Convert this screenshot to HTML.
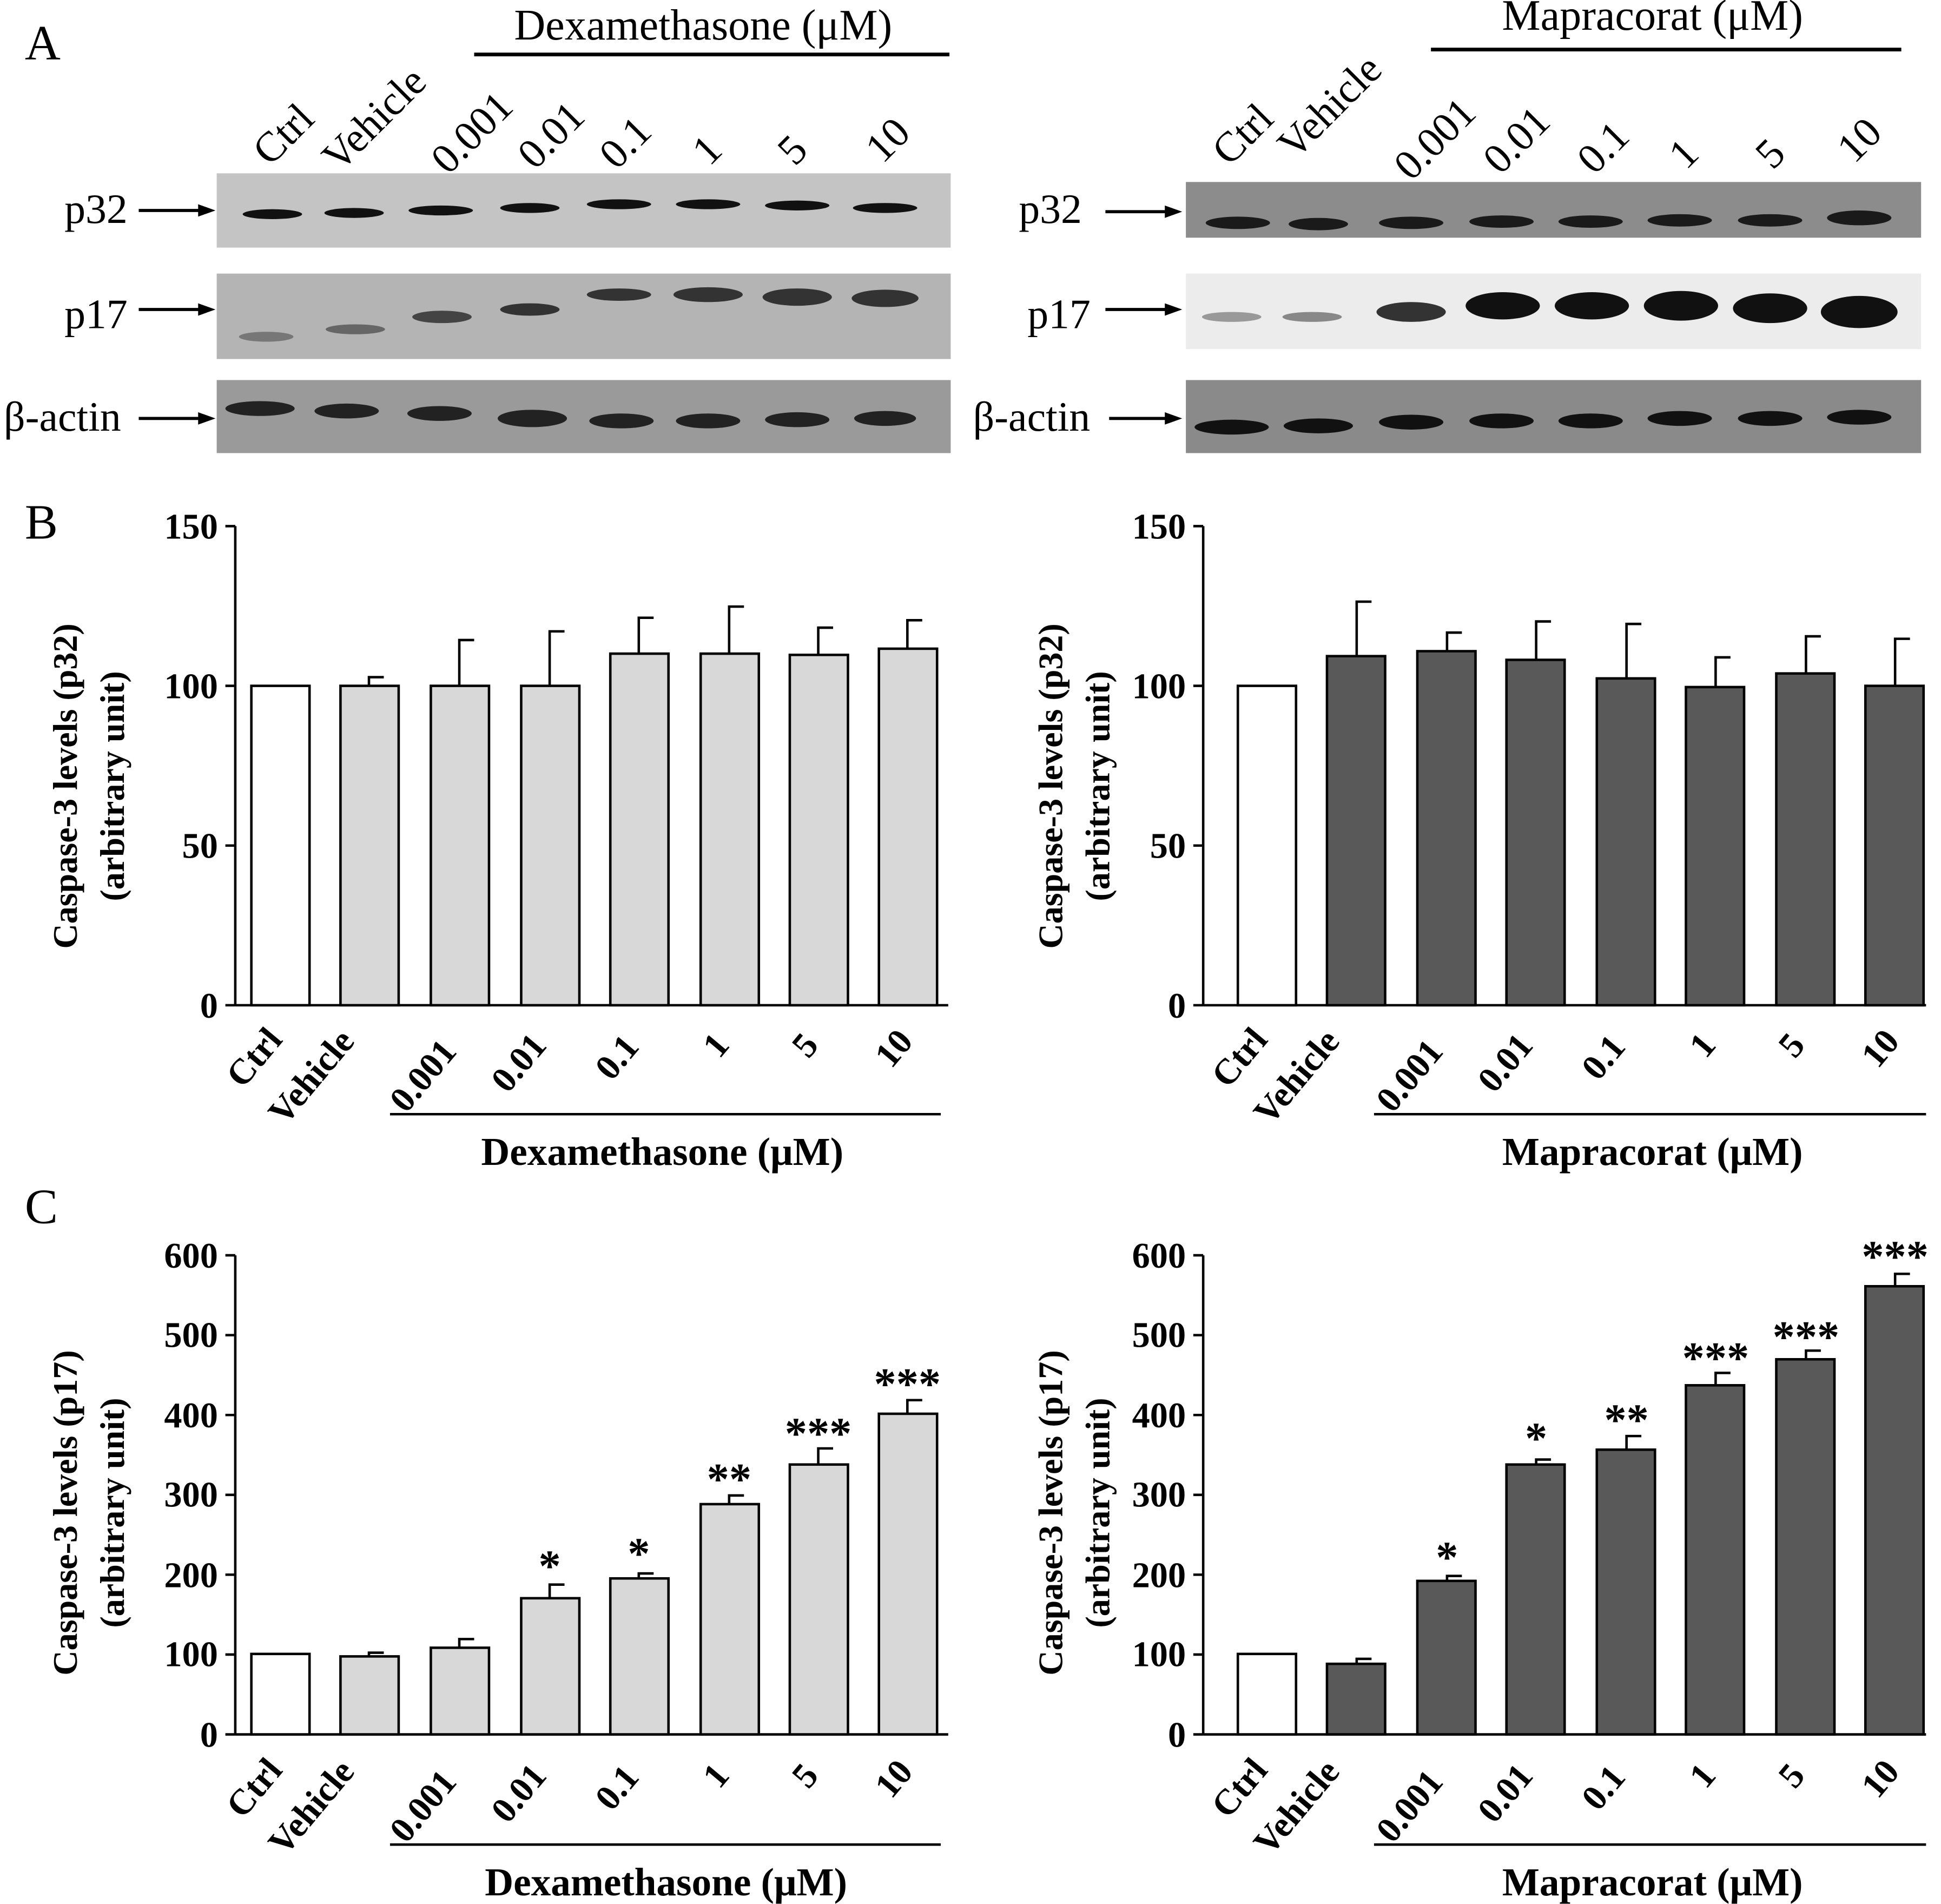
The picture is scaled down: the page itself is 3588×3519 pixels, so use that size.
<!DOCTYPE html>
<html><head><style>html,body{margin:0;padding:0;background:#fff}svg{display:block}</style></head>
<body>
<svg xmlns="http://www.w3.org/2000/svg" width="3588" height="3519" viewBox="0 0 1568 1538" font-family="Liberation Serif, serif">
<rect width="1568" height="1538" fill="#fff"/>
<text x="20" y="48" font-size="40">A</text>
<text x="20" y="435" font-size="40">B</text>
<text x="20" y="988" font-size="40">C</text>

<text x="568" y="32" font-size="35" text-anchor="middle">Dexamethasone (μM)</text>
<line x1="383" y1="44" x2="767" y2="44" stroke="#000" stroke-width="3"/>
<g font-size="34">
<text transform="translate(218,135) rotate(-45)">Ctrl</text>
<text transform="translate(274,140) rotate(-45)">Vehicle</text>
<text transform="translate(362,142) rotate(-45)">0.001</text>
<text transform="translate(432,138) rotate(-45)">0.01</text>
<text transform="translate(498,138) rotate(-45)">0.1</text>
<text transform="translate(573,135) rotate(-45)">1</text>
<text transform="translate(642,135) rotate(-45)">5</text>
<text transform="translate(713,133) rotate(-45)">10</text>
</g>
<rect x="175" y="140" width="593" height="60" fill="#c4c4c4"/>
<rect x="175" y="221" width="593" height="69" fill="#b4b4b4"/>
<rect x="175" y="307" width="593" height="59" fill="#9a9a9a"/>
<g fill="#111">
<ellipse cx="220" cy="173" rx="24" ry="4"/><ellipse cx="286" cy="172" rx="24" ry="4"/><ellipse cx="356" cy="170" rx="26" ry="4"/><ellipse cx="428" cy="168" rx="24" ry="4"/><ellipse cx="500" cy="165" rx="26" ry="4"/><ellipse cx="572" cy="165" rx="26" ry="4"/><ellipse cx="644" cy="166" rx="26" ry="4"/><ellipse cx="715" cy="168" rx="26" ry="4"/>
</g>
<g fill="#333">
<ellipse cx="215" cy="272" rx="22" ry="4" fill="#777"/><ellipse cx="287" cy="266" rx="24" ry="4" fill="#666"/><ellipse cx="357" cy="256" rx="24" ry="5" fill="#444"/><ellipse cx="428" cy="250" rx="24" ry="5" fill="#333"/><ellipse cx="500" cy="238" rx="26" ry="5"/><ellipse cx="572" cy="238" rx="28" ry="6"/><ellipse cx="644" cy="240" rx="28" ry="7"/><ellipse cx="715" cy="241" rx="27" ry="7"/>
</g>
<g fill="#222">
<ellipse cx="210" cy="330" rx="28" ry="6"/><ellipse cx="280" cy="332" rx="26" ry="6"/><ellipse cx="355" cy="334" rx="26" ry="6"/><ellipse cx="430" cy="338" rx="28" ry="7"/><ellipse cx="502" cy="340" rx="26" ry="6"/><ellipse cx="572" cy="340" rx="26" ry="6"/><ellipse cx="644" cy="339" rx="26" ry="6"/><ellipse cx="715" cy="338" rx="25" ry="6"/>
</g>
<g font-size="34">
<text x="52" y="180">p32</text><text x="52" y="265">p17</text><text x="3" y="348">β-actin</text>
<text x="823" y="180">p32</text><text x="830" y="265">p17</text><text x="786" y="348">β-actin</text>
</g>
<g stroke="#000" stroke-width="2.5">
<line x1="112" y1="170" x2="168" y2="170"/><line x1="112" y1="250" x2="168" y2="250"/><line x1="112" y1="338" x2="168" y2="338"/>
<line x1="893" y1="171" x2="948" y2="171"/><line x1="893" y1="250" x2="948" y2="250"/><line x1="896" y1="338" x2="948" y2="338"/>
</g>
<g fill="#000">
<polygon points="174,170 160,165 160,175"/><polygon points="174,250 160,245 160,255"/><polygon points="174,338 160,333 160,343"/>
<polygon points="955,171 941,166 941,176"/><polygon points="955,250 941,245 941,255"/><polygon points="955,338 941,333 941,343"/>
</g>

<text x="1335" y="24" font-size="35" text-anchor="middle">Mapracorat (μM)</text>
<line x1="1156" y1="40" x2="1536" y2="40" stroke="#000" stroke-width="3"/>
<g font-size="34">
<text transform="translate(993,135) rotate(-45)">Ctrl</text>
<text transform="translate(1046,130) rotate(-45)">Vehicle</text>
<text transform="translate(1140,147) rotate(-45)">0.001</text>
<text transform="translate(1212,142) rotate(-45)">0.01</text>
<text transform="translate(1288,142) rotate(-45)">0.1</text>
<text transform="translate(1362,138) rotate(-45)">1</text>
<text transform="translate(1432,138) rotate(-45)">5</text>
<text transform="translate(1498,133) rotate(-45)">10</text>
</g>
<rect x="958" y="147" width="594" height="45" fill="#8c8c8c"/>
<rect x="958" y="221" width="594" height="61" fill="#ececec"/>
<rect x="958" y="307" width="594" height="59" fill="#8a8a8a"/>
<g fill="#1a1a1a">
<ellipse cx="1000" cy="180" rx="26" ry="5"/><ellipse cx="1065" cy="181" rx="24" ry="5"/><ellipse cx="1140" cy="180" rx="26" ry="5"/><ellipse cx="1213" cy="179" rx="26" ry="5"/><ellipse cx="1285" cy="179" rx="26" ry="5"/><ellipse cx="1357" cy="178" rx="26" ry="5"/><ellipse cx="1430" cy="178" rx="26" ry="5"/><ellipse cx="1502" cy="176" rx="26" ry="6"/>
</g>
<g fill="#111">
<ellipse cx="995" cy="256" rx="24" ry="4" fill="#999"/><ellipse cx="1060" cy="256" rx="24" ry="4" fill="#888"/><ellipse cx="1140" cy="252" rx="28" ry="8" fill="#333"/><ellipse cx="1214" cy="247" rx="30" ry="11"/><ellipse cx="1286" cy="247" rx="30" ry="11"/><ellipse cx="1358" cy="247" rx="30" ry="12"/><ellipse cx="1430" cy="249" rx="30" ry="12"/><ellipse cx="1502" cy="252" rx="31" ry="13"/>
</g>
<g fill="#111">
<ellipse cx="995" cy="345" rx="30" ry="6"/><ellipse cx="1065" cy="344" rx="28" ry="6"/><ellipse cx="1140" cy="341" rx="26" ry="6"/><ellipse cx="1213" cy="340" rx="26" ry="6"/><ellipse cx="1285" cy="340" rx="26" ry="6"/><ellipse cx="1357" cy="338" rx="26" ry="6"/><ellipse cx="1430" cy="338" rx="26" ry="6"/><ellipse cx="1502" cy="337" rx="26" ry="6"/>
</g>

<!-- Chart B left -->
<g font-weight="bold" font-size="29">
<g stroke="#000" stroke-width="2" fill="none">
<line x1="190" y1="425" x2="190" y2="812"/><line x1="190" y1="812" x2="766" y2="812"/>
<line x1="182" y1="425" x2="190" y2="425"/><line x1="182" y1="554" x2="190" y2="554"/><line x1="182" y1="683" x2="190" y2="683"/><line x1="182" y1="812" x2="190" y2="812"/>
</g>
<g text-anchor="end"><text x="176" y="435">150</text><text x="176" y="564">100</text><text x="176" y="693">50</text><text x="176" y="822">0</text></g>
<g font-size="28">
<text transform="translate(62,635) rotate(-90)" text-anchor="middle">Caspase-3 levels (p32)</text>
<text transform="translate(100,635) rotate(-90)" text-anchor="middle">(arbitrary unit)</text>
</g>
</g>
<g stroke="#000" stroke-width="2">
<rect x="203" y="554" width="47" height="258" fill="#fff"/>
<rect x="275" y="554" width="47" height="258" fill="#d8d8d8"/>
<rect x="348" y="554" width="47" height="258" fill="#d8d8d8"/>
<rect x="421" y="554" width="47" height="258" fill="#d8d8d8"/>
<rect x="493" y="528" width="47" height="284" fill="#d8d8d8"/>
<rect x="566" y="528" width="47" height="284" fill="#d8d8d8"/>
<rect x="638" y="529" width="47" height="283" fill="#d8d8d8"/>
<rect x="710" y="524" width="47" height="288" fill="#d8d8d8"/>
<path d="M298 554V547h12M371 554V517h12M444 554V510h12M516 528V499h12M589 528V490h12M661 529V507h12M733 524V501h12" fill="none"/>
</g>

<!-- Chart B right -->
<g font-weight="bold" font-size="29">
<g stroke="#000" stroke-width="2" fill="none">
<line x1="972" y1="425" x2="972" y2="812"/><line x1="972" y1="812" x2="1556" y2="812"/>
<line x1="964" y1="425" x2="972" y2="425"/><line x1="964" y1="554" x2="972" y2="554"/><line x1="964" y1="683" x2="972" y2="683"/><line x1="964" y1="812" x2="972" y2="812"/>
</g>
<g text-anchor="end"><text x="958" y="435">150</text><text x="958" y="564">100</text><text x="958" y="693">50</text><text x="958" y="822">0</text></g>
<g font-size="28">
<text transform="translate(858,635) rotate(-90)" text-anchor="middle">Caspase-3 levels (p32)</text>
<text transform="translate(896,635) rotate(-90)" text-anchor="middle">(arbitrary unit)</text>
</g>
</g>
<g stroke="#000" stroke-width="2">
<rect x="1000" y="554" width="47" height="258" fill="#fff"/>
<rect x="1072" y="530" width="47" height="282" fill="#595959"/>
<rect x="1145" y="526" width="47" height="286" fill="#595959"/>
<rect x="1217" y="533" width="47" height="279" fill="#595959"/>
<rect x="1290" y="548" width="47" height="264" fill="#595959"/>
<rect x="1362" y="555" width="47" height="257" fill="#595959"/>
<rect x="1435" y="544" width="47" height="268" fill="#595959"/>
<rect x="1507" y="554" width="47" height="258" fill="#595959"/>
<path d="M1096 530V486h12M1169 526V511h12M1241 533V502h12M1314 548V504h12M1386 555V531h12M1459 544V514h12M1531 554V516h12" fill="none"/>
</g>

<g font-weight="bold" font-size="29">
<text transform="translate(196,880) rotate(-50)">Ctrl</text>
<text transform="translate(230,910) rotate(-50)">Vehicle</text>
<text transform="translate(328,900) rotate(-50)">0.001</text>
<text transform="translate(410,884) rotate(-50)">0.01</text>
<text transform="translate(494,874) rotate(-50)">0.1</text>
<text transform="translate(581,856) rotate(-50)">1</text>
<text transform="translate(653,856) rotate(-50)">5</text>
<text transform="translate(720,864) rotate(-50)">10</text>
<text transform="translate(992,880) rotate(-50)">Ctrl</text>
<text transform="translate(1026,910) rotate(-50)">Vehicle</text>
<text transform="translate(1125,900) rotate(-50)">0.001</text>
<text transform="translate(1207,884) rotate(-50)">0.01</text>
<text transform="translate(1291,874) rotate(-50)">0.1</text>
<text transform="translate(1378,856) rotate(-50)">1</text>
<text transform="translate(1450,856) rotate(-50)">5</text>
<text transform="translate(1517,864) rotate(-50)">10</text>
</g>
<line x1="315" y1="900" x2="760" y2="900" stroke="#000" stroke-width="2"/>
<line x1="1110" y1="900" x2="1556" y2="900" stroke="#000" stroke-width="2"/>
<g font-weight="bold" font-size="32" text-anchor="middle">
<text x="535" y="941">Dexamethasone (μM)</text>
<text x="1335" y="941">Mapracorat (μM)</text>
</g>

<!-- Chart C left -->
<g font-weight="bold" font-size="29">
<g stroke="#000" stroke-width="2" fill="none">
<line x1="190" y1="1014" x2="190" y2="1401"/><line x1="190" y1="1401" x2="766" y2="1401"/>
<path d="M182 1014h8M182 1078.5h8M182 1143h8M182 1207.5h8M182 1272h8M182 1336.5h8M182 1401h8"/>
</g>
<g text-anchor="end"><text x="176" y="1024">600</text><text x="176" y="1088">500</text><text x="176" y="1153">400</text><text x="176" y="1217">300</text><text x="176" y="1282">200</text><text x="176" y="1346">100</text><text x="176" y="1411">0</text></g>
<g font-size="28">
<text transform="translate(62,1222) rotate(-90)" text-anchor="middle">Caspase-3 levels (p17)</text>
<text transform="translate(100,1222) rotate(-90)" text-anchor="middle">(arbitrary unit)</text>
</g>
</g>
<g stroke="#000" stroke-width="2">
<rect x="203" y="1336" width="47" height="65" fill="#fff"/>
<rect x="275" y="1338" width="47" height="63" fill="#d8d8d8"/>
<rect x="348" y="1331" width="47" height="70" fill="#d8d8d8"/>
<rect x="421" y="1291" width="47" height="110" fill="#d8d8d8"/>
<rect x="493" y="1275" width="47" height="126" fill="#d8d8d8"/>
<rect x="566" y="1215" width="47" height="186" fill="#d8d8d8"/>
<rect x="638" y="1183" width="47" height="218" fill="#d8d8d8"/>
<rect x="710" y="1142" width="47" height="259" fill="#d8d8d8"/>
<path d="M298 1338V1335h12M371 1331V1324h12M444 1291V1280h12M516 1275V1271h12M589 1215V1208h12M661 1183V1170h12M733 1142V1131h12" fill="none"/>
</g>
<g font-weight="bold" font-size="36" text-anchor="middle">
<text x="444" y="1277">*</text><text x="516" y="1267">*</text><text x="589" y="1207">**</text><text x="661" y="1170">***</text><text x="733" y="1130">***</text>
</g>

<!-- Chart C right -->
<g font-weight="bold" font-size="29">
<g stroke="#000" stroke-width="2" fill="none">
<line x1="972" y1="1014" x2="972" y2="1401"/><line x1="972" y1="1401" x2="1556" y2="1401"/>
<path d="M964 1014h8M964 1078.5h8M964 1143h8M964 1207.5h8M964 1272h8M964 1336.5h8M964 1401h8"/>
</g>
<g text-anchor="end"><text x="958" y="1024">600</text><text x="958" y="1088">500</text><text x="958" y="1153">400</text><text x="958" y="1217">300</text><text x="958" y="1282">200</text><text x="958" y="1346">100</text><text x="958" y="1411">0</text></g>
<g font-size="28">
<text transform="translate(858,1222) rotate(-90)" text-anchor="middle">Caspase-3 levels (p17)</text>
<text transform="translate(896,1222) rotate(-90)" text-anchor="middle">(arbitrary unit)</text>
</g>
</g>
<g stroke="#000" stroke-width="2">
<rect x="1000" y="1336" width="47" height="65" fill="#fff"/>
<rect x="1072" y="1344" width="47" height="57" fill="#595959"/>
<rect x="1145" y="1277" width="47" height="124" fill="#595959"/>
<rect x="1217" y="1183" width="47" height="218" fill="#595959"/>
<rect x="1290" y="1171" width="47" height="230" fill="#595959"/>
<rect x="1362" y="1119" width="47" height="282" fill="#595959"/>
<rect x="1435" y="1098" width="47" height="303" fill="#595959"/>
<rect x="1507" y="1039" width="47" height="362" fill="#595959"/>
<path d="M1096 1344V1340h12M1169 1277V1273h12M1241 1183V1179h12M1314 1171V1160h12M1386 1119V1109h12M1459 1098V1091h12M1531 1039V1029h12" fill="none"/>
</g>
<g font-weight="bold" font-size="36" text-anchor="middle">
<text x="1169" y="1270">*</text><text x="1241" y="1174">*</text><text x="1314" y="1159">**</text><text x="1386" y="1109">***</text><text x="1459" y="1092">***</text><text x="1531" y="1027">***</text>
</g>

<g font-weight="bold" font-size="29">
<text transform="translate(196,1470) rotate(-50)">Ctrl</text>
<text transform="translate(230,1500) rotate(-50)">Vehicle</text>
<text transform="translate(328,1490) rotate(-50)">0.001</text>
<text transform="translate(410,1474) rotate(-50)">0.01</text>
<text transform="translate(494,1464) rotate(-50)">0.1</text>
<text transform="translate(581,1446) rotate(-50)">1</text>
<text transform="translate(653,1446) rotate(-50)">5</text>
<text transform="translate(720,1454) rotate(-50)">10</text>
<text transform="translate(992,1470) rotate(-50)">Ctrl</text>
<text transform="translate(1026,1500) rotate(-50)">Vehicle</text>
<text transform="translate(1125,1490) rotate(-50)">0.001</text>
<text transform="translate(1207,1474) rotate(-50)">0.01</text>
<text transform="translate(1291,1464) rotate(-50)">0.1</text>
<text transform="translate(1378,1446) rotate(-50)">1</text>
<text transform="translate(1450,1446) rotate(-50)">5</text>
<text transform="translate(1517,1454) rotate(-50)">10</text>
</g>
<line x1="315" y1="1490" x2="760" y2="1490" stroke="#000" stroke-width="2"/>
<line x1="1110" y1="1490" x2="1556" y2="1490" stroke="#000" stroke-width="2"/>
<g font-weight="bold" font-size="32" text-anchor="middle">
<text x="538" y="1531">Dexamethasone (μM)</text>
<text x="1335" y="1531">Mapracorat (μM)</text>
</g>
</svg>
</body></html>
